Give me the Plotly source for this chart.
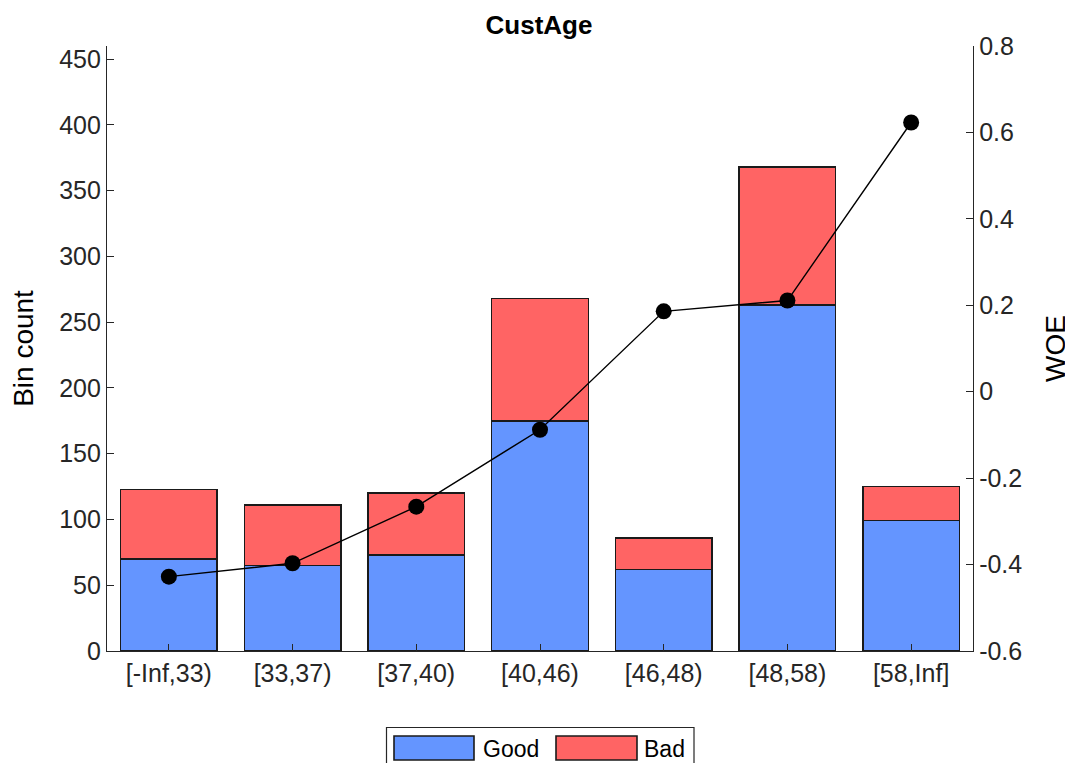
import plotly.graph_objects as go

bins = ["[-Inf,33)", "[33,37)", "[37,40)", "[40,46)", "[46,48)", "[48,58)", "[58,Inf]"]
good = [70, 65, 73, 175, 62, 263, 99]
bad = [53, 46, 47, 93, 24, 105, 26]
woe = [-0.428, -0.397, -0.266, -0.088, 0.186, 0.211, 0.623]
series_names = ["Good", "Bad"]
series_colors = ["#6495FF", "#FF6464"]

# the page body adds an 8px offset, so the figure is sized/positioned to compensate
OFF = 8
W, H = 1073 - OFF, 763 - OFF
L, R, T, B = 107 - OFF, 100, 46 - OFF, 112
font_fam = "Liberation Sans, Arial, Helvetica, sans-serif"
tick_col = "#262626"
edge_col = "#1a1a1a"

fig = go.Figure()
fig.add_trace(go.Bar(x=bins, y=good, name=series_names[0], showlegend=False, width=0.78,
                     marker=dict(color=series_colors[0], line=dict(color=edge_col, width=1.4))))
fig.add_trace(go.Bar(x=bins, y=bad, name=series_names[1], showlegend=False, width=0.78,
                     marker=dict(color=series_colors[1], line=dict(color=edge_col, width=1.4))))
fig.add_trace(go.Scatter(x=bins, y=woe, yaxis="y2", mode="lines+markers", showlegend=False, name="WOE",
                         line=dict(color="black", width=1.4), marker=dict(color="black", size=16)))

axis_common = dict(showline=True, linecolor=tick_col, linewidth=1.3, ticks="inside", ticklen=7,
                   tickcolor=tick_col, tickwidth=1.3, showgrid=False, zeroline=False,
                   tickfont=dict(size=25, color=tick_col, family=font_fam))

fig.update_layout(
    barmode="stack",
    width=W, height=H,
    paper_bgcolor="white", plot_bgcolor="white",
    margin=dict(l=L, r=R, t=T, b=B, autoexpand=False),
    font=dict(family=font_fam, size=25, color=tick_col),
    title=dict(text="<b>CustAge</b>", x=(539 - OFF) / W, xanchor="center", y=1 - 17 / H, yanchor="middle",
               font=dict(size=26, color="black", family=font_fam)),
    xaxis=dict(range=[-0.5, 6.5], **axis_common),
    yaxis=dict(title=dict(text="Bin count", font=dict(size=28, color="black", family=font_fam), standoff=22),
               range=[0, 460], tickvals=[0, 50, 100, 150, 200, 250, 300, 350, 400, 450], **axis_common),
    yaxis2=dict(title=dict(text="WOE", font=dict(size=28, color="black", family=font_fam), standoff=24),
                range=[-0.6, 0.8], overlaying="y", side="right",
                tickvals=[-0.6, -0.4, -0.2, 0, 0.2, 0.4, 0.6, 0.8],
                ticktext=["-0.6", "-0.4", "-0.2", "0", "0.2", "0.4", "0.6", "0.8"], **axis_common),
    showlegend=False,
)

# Legend drawn as a box with wide swatches (MATLAB style); page pixels -> plot-area paper coords
def px(x):
    return (x - OFF - L) / (W - L - R)

def py(y):
    return (H - B - (y - OFF)) / (H - T - B)

shapes = [dict(type="rect", xref="paper", yref="paper", x0=px(386.5), x1=px(694), y0=py(800), y1=py(727.5),
               line=dict(color=tick_col, width=1.2), fillcolor="white", layer="above")]
swatches = [(394, 474, 481), (556, 637, 642)]
annotations = []
for (sx0, sx1, tx), name, col in zip(swatches, series_names, series_colors):
    shapes.append(dict(type="rect", xref="paper", yref="paper", x0=px(sx0), x1=px(sx1), y0=py(760), y1=py(736),
                       line=dict(color=edge_col, width=1.6), fillcolor=col, layer="above"))
    annotations.append(dict(text=name, xref="paper", yref="paper", x=px(tx), y=py(749), xanchor="left",
                            yanchor="middle", showarrow=False,
                            font=dict(size=23, color="black", family=font_fam)))
fig.update_layout(shapes=shapes, annotations=annotations)

fig.write_html("out.html")
